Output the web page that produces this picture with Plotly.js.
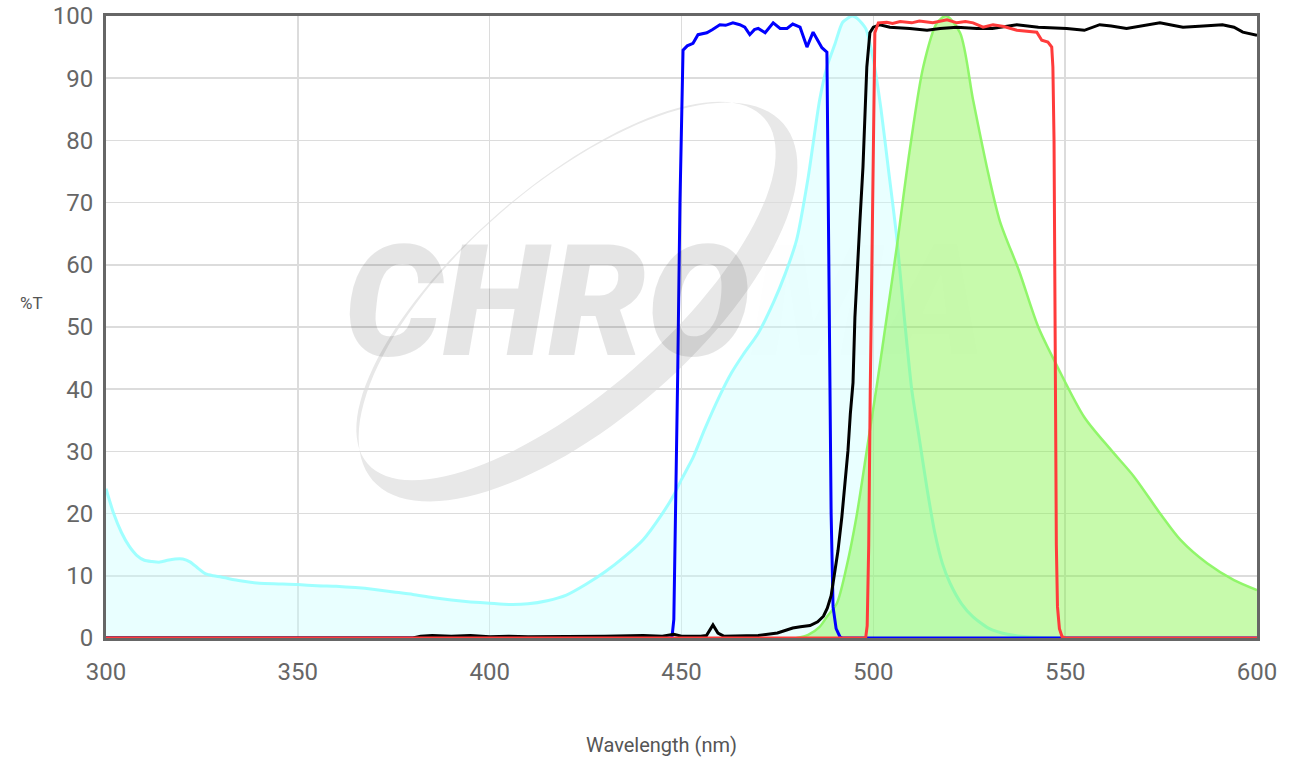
<!DOCTYPE html>
<html>
<head>
<meta charset="utf-8">
<script src="https://cdn.plot.ly/plotly-3.0.1.min.js"></script>
<style>html,body{margin:0;padding:0;background:#fff;}#chart{width:1293px;height:758px;}</style>
</head>
<body>
<div id="chart"></div>
<script>
// Excitation spectrum (cyan, filled)
const cyanX = [300,302,304,306,308,310,312,314,316,318,320,322,324,326,328,330,335,340,345,350,355,360,365,370,375,380,385,390,395,400,405,410,415,420,425,430,435,440,445,448,450,453,456,460,463,466,470,474,477,480,483,486,488,490,492,494.5,496,498,500,502,504,506,508,510,512,514,516,518,520,523,526,530,535,540,550,600];
const cyanY = [24,20,17,14.8,13.3,12.5,12.3,12.2,12.5,12.7,12.7,12.2,11.2,10.3,10.0,9.8,9.2,8.8,8.7,8.6,8.4,8.3,8.1,7.8,7.4,7.0,6.5,6.1,5.8,5.6,5.4,5.5,6.0,6.9,8.6,10.6,13.0,15.8,20,23,25.5,29,33.5,39,42.6,45.5,49,54,58.5,64,74,86.5,92,95.5,99,100,99.5,98,93,85,75,65,52,40,32,24,17,12,8.8,5.5,3.4,1.6,0.6,0.2,0,0];

// Emission spectrum (green, filled)
const greenX = [480,483,486,488,490.5,493,495.6,498.3,501,503.5,506,509.5,513,516.6,519,522.6,526,529.6,533,538,543,548,555,562,568,575,580,587,594,600];
const greenY = [0,0.5,1.8,3.5,5.6,11.4,19.5,30.2,41,51.6,62.4,78.5,91.8,98.9,100,97.3,86.5,75.7,67,59,50,43.6,35.5,30.2,25.9,19.8,15.8,12,9.3,7.7];

// Excitation filter (blue)
const blueX = [300,447.5,448,448.5,449,449.6,450,450.4,451.5,453,454.3,456.6,458,460,461.5,463.4,465.2,466.5,467.8,469,470,471.8,473.9,475.7,477.5,479,480.9,482.7,484.3,486.6,487.9,488.3,488.7,489,489.5,490.3,491.3,492,600];
const blueY = [0,0,3,20,42,70,85,94.5,95.2,95.6,97,97.3,97.8,98.6,98.5,98.9,98.6,98.2,97,97.8,98,97.3,98.9,98,98,98.7,98.2,95,97.4,94.9,94.2,70,40,20,5,1.5,0.2,0,0];

// Dichroic (black)
const blackX = [300,380,382,385,390,395,400,405,410,420,430,440,445,448,450,455,456.5,458.2,459.5,461,465,470,475,479,481,483.5,485.5,487,488,489,489.5,490.8,491.8,492.6,493.4,494,494.7,495.2,496,496.5,497.3,498.3,499.1,500,501.7,504.3,509.5,514,517.4,521.8,527,531,537.4,543,550.4,555,559,562,566,570,574.7,578,580.7,586,591,594,596.3,600];
const blackY = [0,0,0.3,0.4,0.3,0.4,0.2,0.3,0.2,0.2,0.3,0.4,0.3,0.6,0.3,0.3,0.4,2.1,0.8,0.3,0.3,0.4,0.8,1.6,1.8,2.0,2.6,3.5,4.8,6.8,8.8,14.1,19.5,24.9,30.2,36,41,51.6,62.4,67,75.7,91.8,97.3,98.2,98.6,98.2,98,97.7,98,98.2,98,98,98.6,98.2,98,97.7,98.6,98.4,98,98.4,98.9,98.5,98.2,98.4,98.6,98.2,97.4,96.9];

// Emission filter (red)
const redX = [300,498,498.4,498.8,499.2,499.6,500,500.4,501.3,503.5,505,507,510,512,515.5,519.2,521.8,524,526,528.6,531.2,534,537.4,540,542.6,543.9,545.5,546.5,546.8,547.1,547.3,547.5,547.7,548,548.5,549.2,550,600];
const redY = [0,0,2,15,40,62,85,97.3,98.9,99,98.8,99.1,98.9,99.2,98.9,99.4,98.9,99.1,98.9,98.2,98.6,98.3,97.7,97.6,97.4,96.1,95.8,95,91.8,80,60,35,15,5,1.5,0.2,0,0];

const xTicks = [300,350,400,450,500,550,600];
const yTicks = [0,10,20,30,40,50,60,70,80,90,100];

// Watermark swoosh (decorative) in paper coordinates
function ellipsePath(cx, cy, a, b, angDeg, n) {
  const L = 106, T = 16, W = 1151, H = 622;
  const th = angDeg * Math.PI / 180;
  let s = '';
  for (let i = 0; i <= n; i++) {
    const t = 2 * Math.PI * i / n;
    const px = cx + a * Math.cos(t) * Math.cos(th) - b * Math.sin(t) * Math.sin(th);
    const py = cy + a * Math.cos(t) * Math.sin(th) + b * Math.sin(t) * Math.cos(th);
    const ux = (px - L) / W, uy = (T + H - py) / H;
    s += (i === 0 ? 'M' : 'L') + ux.toFixed(4) + ',' + uy.toFixed(4);
  }
  return s + 'Z';
}
const swoosh = ellipsePath(578, 302, 272, 118, -41, 120) + ellipsePath(566, 291, 263, 103, -41, 120);

const traces = [
  {x: cyanX, y: cyanY, type: 'scatter', mode: 'lines', fill: 'tozeroy',
   fillcolor: 'rgba(200,255,255,0.4)', line: {color: 'rgba(150,255,255,0.9)', width: 3, shape: 'spline', smoothing: 0.6}, name: 'Excitation'},
  {x: greenX, y: greenY, type: 'scatter', mode: 'lines', fill: 'tozeroy',
   fillcolor: 'rgba(130,245,70,0.45)', line: {color: 'rgba(140,245,100,0.95)', width: 2.5, shape: 'spline', smoothing: 0.8}, name: 'Emission'},
  {x: blueX, y: blueY, type: 'scatter', mode: 'lines', line: {color: '#0000ff', width: 3}, name: 'Exciter'},
  {x: blackX, y: blackY, type: 'scatter', mode: 'lines', line: {color: '#000000', width: 3}, name: 'Dichroic'},
  {x: redX, y: redY, type: 'scatter', mode: 'lines', line: {color: '#ff3b3b', width: 3}, name: 'Emitter'}
];

const layout = {
  width: 1293, height: 758,
  margin: {l: 106, r: 36, t: 16, b: 120},
  paper_bgcolor: '#ffffff', plot_bgcolor: '#ffffff',
  showlegend: false,
  font: {family: 'Roboto, "Open Sans", sans-serif', color: '#666666'},
  xaxis: {
    range: [300, 600], tickvals: xTicks, ticktext: xTicks.map(String),
    showgrid: true, gridcolor: '#dcdcdc', gridwidth: 1.5, zeroline: false,
    showline: true, linecolor: '#666666', linewidth: 3, mirror: true,
    ticks: 'outside', ticklen: 10, tickcolor: 'rgba(0,0,0,0)',
    tickfont: {size: 24, color: '#666666'}
  },
  yaxis: {
    range: [0, 100], tickvals: yTicks, ticktext: yTicks.map(String),
    showgrid: true, gridcolor: '#dcdcdc', gridwidth: 1.5, zeroline: false,
    showline: true, linecolor: '#666666', linewidth: 3, mirror: true,
    ticks: 'outside', ticklen: 5, tickcolor: 'rgba(0,0,0,0)',
    tickfont: {size: 24, color: '#666666'}
  },
  shapes: [
    {type: 'path', xref: 'paper', yref: 'paper', path: swoosh, fillrule: 'evenodd',
     fillcolor: '#e8e8e8', line: {width: 0}, layer: 'below'}
  ],
  annotations: [
    {text: 'CHRO<span style="color:rgba(0,0,0,0.05)">MA</span>', xref: 'paper', yref: 'paper',
     x: (665 - 106) / 1151, y: (638 - 302) / 622, xanchor: 'center', yanchor: 'middle', showarrow: false,
     font: {family: 'Roboto, sans-serif', size: 155, color: 'rgba(0,0,0,0.1)', weight: 900, style: 'italic'}},
    {text: '%T', xref: 'paper', yref: 'paper', x: (31 - 106) / 1151, y: (638 - 303) / 622,
     xanchor: 'center', yanchor: 'middle', showarrow: false, font: {size: 17, color: '#555555'}},
    {text: 'Wavelength (nm)', xref: 'paper', yref: 'paper', x: (661 - 106) / 1151, y: (638 - 745) / 622,
     xanchor: 'center', yanchor: 'middle', showarrow: false, font: {size: 20, color: '#555555'}}
  ]
};

Plotly.newPlot('chart', traces, layout, {displayModeBar: false, staticPlot: true});
</script>
</body>
</html>
